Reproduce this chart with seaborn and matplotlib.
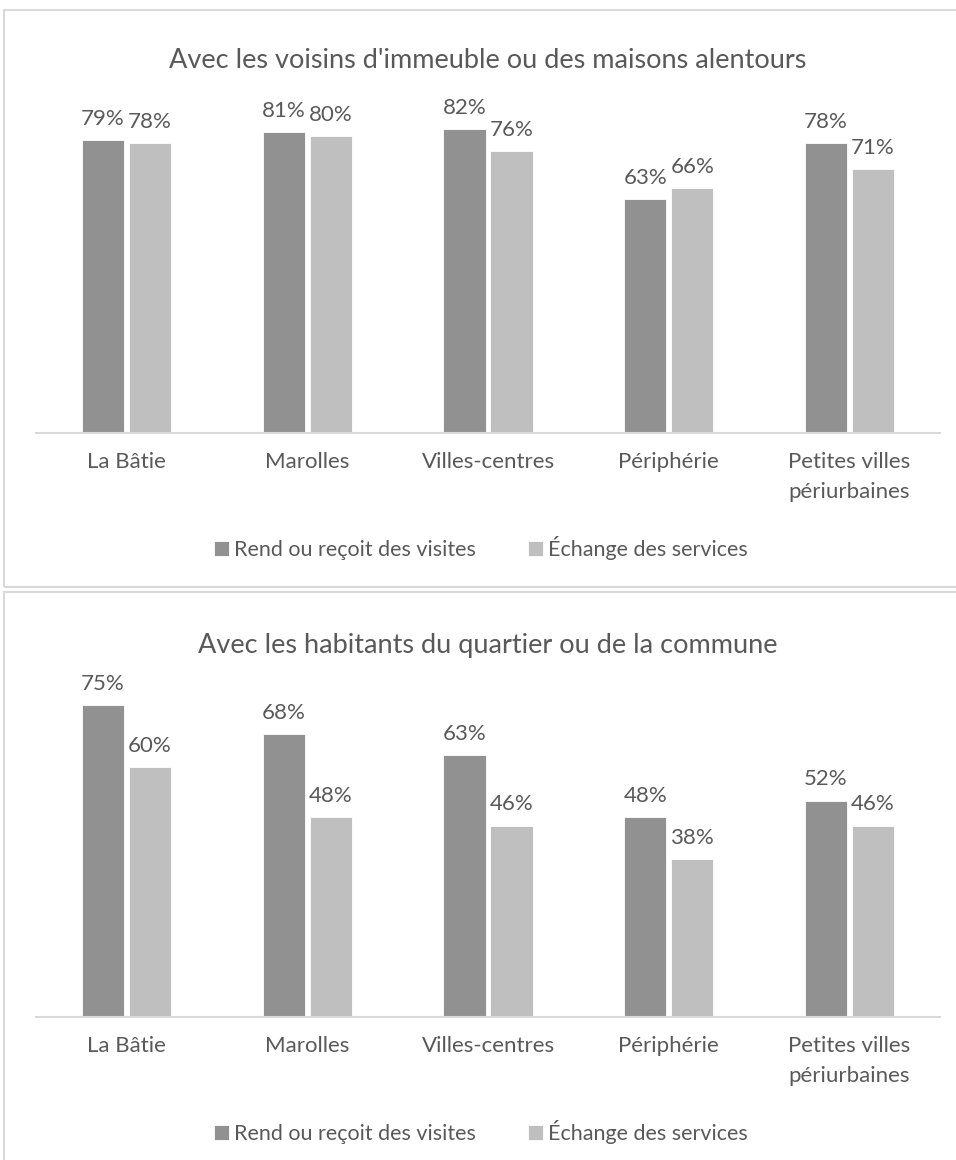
import matplotlib.pyplot as plt
import seaborn as sns
import pandas as pd
from matplotlib.patches import Rectangle

categories = ["La Bâtie", "Marolles", "Villes-centres", "Périphérie", "Petites villes\npériurbaines"]
series = ["Rend ou reçoit des visites", "Échange des services"]

# Avec les voisins d'immeuble ou des maisons alentours
voisins_visites = [0.79, 0.81, 0.82, 0.63, 0.78]
voisins_services = [0.78, 0.80, 0.76, 0.66, 0.71]

# Avec les habitants du quartier ou de la commune
habitants_visites = [0.75, 0.68, 0.63, 0.48, 0.52]
habitants_services = [0.60, 0.48, 0.46, 0.38, 0.46]

titles = ["Avec les voisins d'immeuble ou des maisons alentours",
          "Avec les habitants du quartier ou de la commune"]
ymax = [0.9, 0.8]

sns.set_style("white")
plt.rcParams['font.family'] = ['Lato', 'DejaVu Sans']
txt = "#595959"
palette = {series[0]: "#919191", series[1]: "#bfbfbf"}

fig = plt.figure(figsize=(9.56, 11.6), dpi=100)

# panel borders
for y0, y1 in [(10, 587), (592, 1175)]:
    fig.patches.append(Rectangle((4 / 956, 1 - y1 / 1160), 1.0, (y1 - y0) / 1160,
                                 transform=fig.transFigure, fill=False,
                                 edgecolor="#d9d9d9", linewidth=1.5, clip_on=False))

axes_pos = [[36 / 956, 0.6267, 904 / 956, 0.288],
            [36 / 956, 0.1233, 904 / 956, 0.287]]
data = [(voisins_visites, voisins_services), (habitants_visites, habitants_services)]

for pos, (a, b), title, top in zip(axes_pos, data, titles, ymax):
    ax = fig.add_axes(pos)
    df = pd.DataFrame({
        "cat": categories * 2,
        "serie": [series[0]] * 5 + [series[1]] * 5,
        "val": a + b,
    })
    sns.barplot(data=df, x="cat", y="val", hue="serie", hue_order=series,
                palette=palette, width=0.52, gap=0.1, ax=ax,
                edgecolor="white", linewidth=0.6, saturation=1)
    for cont in ax.containers:
        ax.bar_label(cont, labels=[f"{v:.0%}" for v in cont.datavalues],
                     padding=8, fontsize=16, color=txt)
    ax.set_ylim(0, top)
    ax.set_xlim(-0.5, 4.5)
    ax.set_title(title, fontsize=19.5, color=txt, pad=22)
    ax.set_xlabel("")
    ax.set_ylabel("")
    ax.set_yticks([])
    ax.tick_params(axis="x", length=0, pad=14, labelsize=16, labelcolor=txt)
    for lbl in ax.get_xticklabels():
        lbl.set_linespacing(1.6)
    for s in ["left", "right", "top"]:
        ax.spines[s].set_visible(False)
    ax.spines["bottom"].set_color("#d9d9d9")
    ax.spines["bottom"].set_linewidth(1.5)
    ax.legend(loc="center", bbox_to_anchor=(0.492, -0.345), ncol=2, frameon=False,
              fontsize=15.5, labelcolor=txt, handlelength=0.7, handleheight=0.7,
              handletextpad=0.25, columnspacing=2.4)

fig.savefig("out.png", dpi=100)
